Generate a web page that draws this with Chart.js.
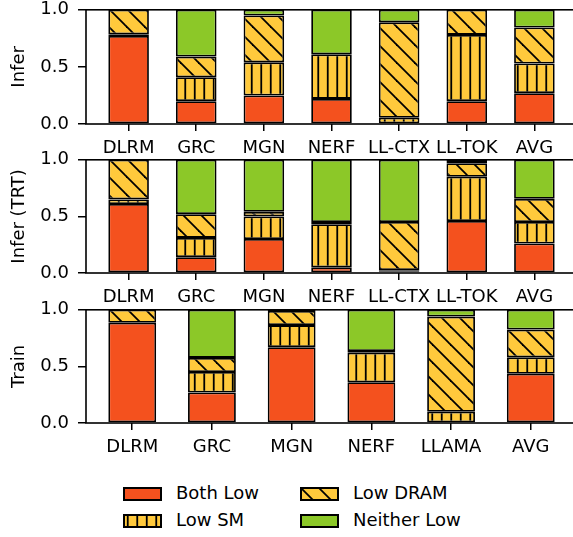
<!DOCTYPE html>
<html>
<head>
<meta charset="utf-8">
<script src="https://cdn.jsdelivr.net/npm/chart.js@4/dist/chart.umd.min.js"></script>
<style>
  body { margin: 0; width: 573px; height: 537px; overflow: hidden; background: #fff; position: relative; font-family: "DejaVu Sans", sans-serif; }
  canvas.panel { position: absolute; left: 0; }
  .leg { position: absolute; font-size: 18px; color: #000; line-height: 20px; }
  .sw { position: absolute; }
</style>
</head>
<body>
<canvas id="infer" class="panel" width="600" height="164" style="top:-10px"></canvas>
<canvas id="trt" class="panel" width="600" height="163" style="top:140px"></canvas>
<canvas id="train" class="panel" width="600" height="163" style="top:290px"></canvas>

<canvas id="swBoth" class="sw" width="39" height="14" style="left:123px;top:487px"></canvas>
<div class="leg" style="left:176px;top:483px">Both Low</div>
<canvas id="swSM" class="sw" width="39" height="14" style="left:123px;top:514px"></canvas>
<div class="leg" style="left:176px;top:510px">Low SM</div>
<canvas id="swDRAM" class="sw" width="39" height="14" style="left:300px;top:487px"></canvas>
<div class="leg" style="left:353px;top:483px">Low DRAM</div>
<canvas id="swNeither" class="sw" width="39" height="14" style="left:300px;top:514px"></canvas>
<div class="leg" style="left:353px;top:510px">Neither Low</div>

<script>
// fractions of time per category
const inferLabels = ['DLRM', 'GRC', 'MGN', 'NERF', 'LL-CTX', 'LL-TOK', 'AVG'];
const inferBothLow = [0.77, 0.20, 0.25, 0.22, 0.00, 0.20, 0.27];
const inferLowSM = [0.015, 0.21, 0.29, 0.39, 0.055, 0.58, 0.26];
const inferLowDRAM = [0.215, 0.18, 0.41, 0.00, 0.835, 0.22, 0.315];
const inferNeither = [0.00, 0.41, 0.05, 0.39, 0.11, 0.00, 0.155];

const trtLabels = ['DLRM', 'GRC', 'MGN', 'NERF', 'LL-CTX', 'LL-TOK', 'AVG'];
const trtBothLow = [0.61, 0.14, 0.30, 0.05, 0.01, 0.46, 0.26];
const trtLowSM = [0.04, 0.17, 0.20, 0.38, 0.015, 0.39, 0.19];
const trtLowDRAM = [0.35, 0.21, 0.04, 0.02, 0.425, 0.12, 0.205];
const trtNeither = [0.00, 0.48, 0.46, 0.55, 0.55, 0.03, 0.345];

const trainLabels = ['DLRM', 'GRC', 'MGN', 'NERF', 'LLAMA', 'AVG'];
const trainBothLow = [0.885, 0.27, 0.67, 0.36, 0.00, 0.435];
const trainLowSM = [0.00, 0.18, 0.195, 0.26, 0.10, 0.145];
const trainLowDRAM = [0.115, 0.125, 0.125, 0.015, 0.84, 0.245];
const trainNeither = [0.00, 0.425, 0.01, 0.365, 0.06, 0.175];

const yTicks = [0, 0.5, 1.0];

const RED = '#f4511e';
const YELLOW = '#ffc93c';
const GREEN = '#8cc828';
const FONT = { family: 'DejaVu Sans', size: 18 };

function vertPattern(ctx) {
    const c = document.createElement('canvas');
    c.width = 19; c.height = 19;
    const g = c.getContext('2d');
    g.fillStyle = YELLOW;
    g.fillRect(0, 0, 19, 19);
    g.strokeStyle = '#000';
    g.lineWidth = 1.8;
    [4.75, 14.25].forEach(x => {
        g.beginPath(); g.moveTo(x, 0); g.lineTo(x, 19); g.stroke();
    });
    return ctx.createPattern(c, 'repeat');
}

function diagPattern(ctx) {
    const s = 18;
    const c = document.createElement('canvas');
    c.width = s; c.height = s;
    const g = c.getContext('2d');
    g.fillStyle = YELLOW;
    g.fillRect(0, 0, s, s);
    g.strokeStyle = '#000';
    g.lineWidth = 1.8;
    [-s, 0, s].forEach(k => {
        g.beginPath(); g.moveTo(-2, -2 + k); g.lineTo(s + 2, s + 2 + k); g.stroke();
    });
    return ctx.createPattern(c, 'repeat');
}

const boxPlugin = {
    id: 'box',
    afterDatasetsDraw(chart) {
        const a = chart.chartArea;
        const ctx = chart.ctx;
        ctx.save();
        ctx.strokeStyle = '#000';
        ctx.lineWidth = 1.6;
        ctx.strokeRect(a.left, a.top, a.right - a.left, a.bottom - a.top);
        ctx.restore();
    }
};

function makePanel(id, labels, bothLow, lowSM, lowDRAM, neither, yTitle) {
    const canvas = document.getElementById(id);
    const ctx = canvas.getContext('2d');
    const n = labels.length;
    const pad = 0.3 + 0.05 * (n - 0.4);
    const toPts = arr => arr.map((v, i) => ({ x: i, y: v }));
    const common = { borderColor: '#000', borderWidth: 1.8, borderSkipped: false,
                     barPercentage: 0.6, categoryPercentage: 1.0 };
    new Chart(ctx, {
        type: 'bar',
        data: {
            datasets: [
                Object.assign({ label: 'Both Low', data: toPts(bothLow), backgroundColor: RED }, common),
                Object.assign({ label: 'Low SM', data: toPts(lowSM), backgroundColor: vertPattern(ctx) }, common),
                Object.assign({ label: 'Low DRAM', data: toPts(lowDRAM), backgroundColor: diagPattern(ctx) }, common),
                Object.assign({ label: 'Neither Low', data: toPts(neither), backgroundColor: GREEN }, common)
            ]
        },
        options: {
            responsive: false,
            animation: false,
            layout: { padding: { top: 19, left: 0, right: 23, bottom: 0 } },
            plugins: { legend: { display: false }, tooltip: { enabled: false } },
            scales: {
                x: {
                    type: 'linear',
                    stacked: true,
                    offset: false,
                    min: -pad,
                    max: n - 1 + pad,
                    afterBuildTicks: axis => { axis.ticks = labels.map((l, i) => ({ value: i })); },
                    afterFit: axis => { axis.height = 30; },
                    ticks: {
                        autoSkip: false,
                        maxRotation: 0,
                        padding: 7,
                        color: '#000',
                        font: FONT,
                        callback: v => labels[v]
                    },
                    grid: { offset: false, drawOnChartArea: false, drawTicks: true, tickLength: 7, color: '#000', lineWidth: 1.5 },
                    border: { display: false }
                },
                y: {
                    stacked: true,
                    min: 0,
                    max: 1,
                    afterBuildTicks: axis => { axis.ticks = yTicks.map(v => ({ value: v })); },
                    afterFit: axis => { axis.width = 86; },
                    ticks: {
                        padding: 9,
                        color: '#000',
                        font: FONT,
                        callback: v => v.toFixed(1)
                    },
                    grid: { drawOnChartArea: false, drawTicks: true, tickLength: 8, color: '#000', lineWidth: 1.5 },
                    border: { display: false },
                    title: { display: true, text: yTitle, color: '#000', font: FONT, padding: { top: 9, bottom: 0 } }
                }
            }
        },
        plugins: [boxPlugin]
    });
}

makePanel('infer', inferLabels, inferBothLow, inferLowSM, inferLowDRAM, inferNeither, 'Infer');
makePanel('trt', trtLabels, trtBothLow, trtLowSM, trtLowDRAM, trtNeither, 'Infer (TRT)');
makePanel('train', trainLabels, trainBothLow, trainLowSM, trainLowDRAM, trainNeither, 'Train');

// legend swatches
function swatch(id, fill) {
    const c = document.getElementById(id);
    const g = c.getContext('2d');
    g.fillStyle = typeof fill === 'function' ? fill(g) : fill;
    g.fillRect(0, 0, c.width, c.height);
    g.strokeStyle = '#000';
    g.lineWidth = 2;
    g.strokeRect(1, 1, c.width - 2, c.height - 2);
}
swatch('swBoth', RED);
swatch('swSM', vertPattern);
swatch('swDRAM', diagPattern);
swatch('swNeither', GREEN);
</script>
</body>
</html>
